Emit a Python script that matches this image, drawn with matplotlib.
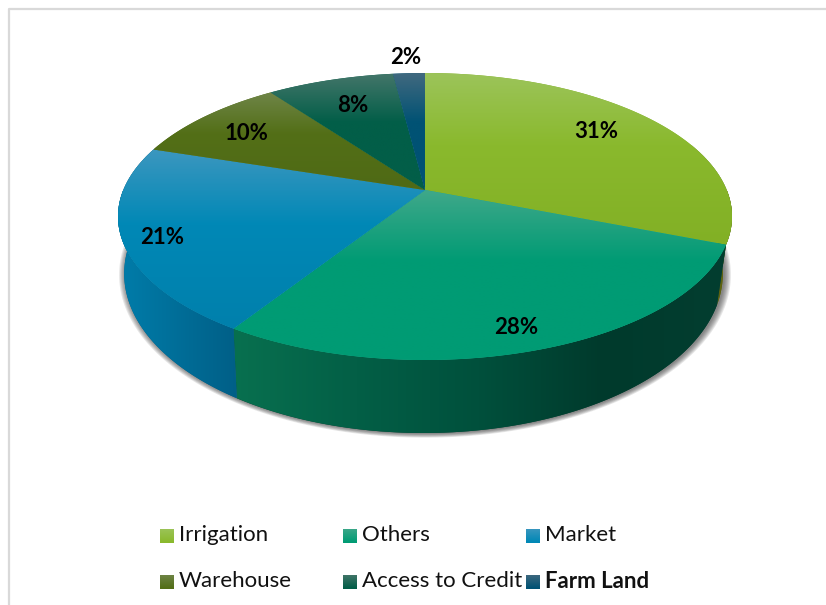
"""Tilted 3D style pie chart with gradient faces, drawn on a pixel-sized axes."""

import numpy as np
import matplotlib
matplotlib.use("Agg")
import matplotlib.pyplot as plt
from matplotlib.colors import LinearSegmentedColormap
from matplotlib.patches import Polygon

plt.rcParams["font.family"] = ["Lato", "DejaVu Sans"]

CATEGORIES = ["Irrigation", "Others", "Market", "Warehouse", "Access to Credit", "Farm Land"]
SHARES = [31, 28, 21, 10, 8, 2]
LABEL_TEXTS = ["31%", "28%", "21%", "10%", "8%", "2%"]

# styles
BASE_COLORS = ["#8AB92D", "#009B74", "#0088B6", "#536F17", "#025E48", "#005274"]
LIGHT_COLORS = ["#9CC45A", "#3FA88A", "#3C97BF", "#6F8548", "#44766A", "#41697F"]
END_COLORS = ["#82B025", "#009B74", "#0080AC", "#4F6A15", "#025E48", "#005274"]
SIDE_STOPS = {
    0: ["#5E6410", "#5A6010"],
    1: ["#08704F", "#035F46", "#00503C", "#003A2C", "#033E30"],
    2: ["#007DAA", "#005F87"],
}
LABEL_XY = [(596, 132), (516, 328), (162, 238), (246, 134), (353, 105), (406, 57)]
LEGEND_BOX_X = [160, 343, 526]
LEGEND_ROW_Y = [529, 575]
LEGEND_BOX = 13.5

# projection of the pie disc, in pixels
APEX_X, APEX_Y = 425.0, 190.0
RX, RY, TILT = 301.7, 138.6, 0.1847
SIDE_SX, SIDE_SY, SIDE_X0, SIDE_Y0 = 0.975, 1.11, 423.5, 244.3


def project(theta_deg):
    t = np.radians(theta_deg)
    d = 1 + TILT * np.sin(t)
    return RX * np.cos(t) / d, -RY * np.sin(t) / d


def top_xy(theta_deg):
    x, y = project(theta_deg)
    return np.column_stack([APEX_X + x, APEX_Y + y])


def bottom_xy(theta_deg, grow=1.0, dx=0.0, dy=0.0):
    x, y = project(theta_deg)
    return np.column_stack([SIDE_X0 + dx + x * SIDE_SX * grow, SIDE_Y0 + dy + y * SIDE_SY * grow])


def gradient_fill(ax, pts, colors, positions=None, vertical=True, zorder=2):
    """polygon filled with a linear gradient along its bounding box"""
    patch = Polygon(pts, closed=True, facecolor=colors[-1], edgecolor="none", zorder=zorder)
    ax.add_patch(patch)
    x0, y0 = pts.min(axis=0)
    x1, y1 = pts.max(axis=0)
    if positions is None:
        positions = np.linspace(0, 1, len(colors))
    cmap = LinearSegmentedColormap.from_list("g", list(zip(positions, colors)))
    ramp = np.linspace(0, 1, 256)
    arr = ramp[:, None] if vertical else ramp[None, :]
    im = ax.imshow(arr, cmap=cmap, vmin=0, vmax=1, extent=(x0, x1, y1, y0),
                   origin="upper", aspect="auto", interpolation="bilinear", zorder=zorder)
    im.set_clip_path(patch)
    return im


fig = plt.figure(figsize=(8.26, 6.05), dpi=100)
ax = fig.add_axes([0, 0, 1, 1])
ax.axis("off")

# chart frame (top and left only are in the crop)
ax.plot([9, 9, 826], [605, 9, 9], color="#D9D9D9", linewidth=1.6, zorder=1)

edges = 90 - np.cumsum([0] + SHARES) * 3.6

# soft shadow under the disc
circle = np.linspace(-200, 20, 200)
for i in range(7):
    grow = 1.022 - i * 0.0035
    ring = np.vstack([top_xy(circle), bottom_xy(circle, grow=grow, dx=1.5, dy=0.5)[::-1]])
    ax.add_patch(Polygon(ring, closed=True, facecolor="#3A3A3A", edgecolor="none",
                         alpha=0.12, zorder=1.5))

# side walls, only the part facing the viewer
for i in SIDE_STOPS:
    start = min(edges[i], 0)
    stop = max(edges[i + 1], -180)
    th = np.linspace(start, stop, 80)
    wall = np.vstack([top_xy(th), bottom_xy(th)[::-1]])
    gradient_fill(ax, wall, SIDE_STOPS[i], vertical=False, zorder=2)

# top faces
for i in range(len(SHARES)):
    th = np.linspace(edges[i], edges[i + 1], 120)
    face = np.vstack([[[APEX_X, APEX_Y]], top_xy(th)])
    gradient_fill(ax, face, [LIGHT_COLORS[i], BASE_COLORS[i], END_COLORS[i]],
                  positions=[0, 0.42, 1], zorder=3)

for txt, (x, y) in zip(LABEL_TEXTS, LABEL_XY):
    ax.text(x, y, txt, ha="center", va="center", fontsize=16, fontweight="bold",
            color="black", zorder=5)

# legend, 3 columns by 2 rows
for i, name in enumerate(CATEGORIES):
    bx = LEGEND_BOX_X[i % 3]
    by = LEGEND_ROW_Y[i // 3]
    box = np.array([[bx, by], [bx + LEGEND_BOX, by], [bx + LEGEND_BOX, by + LEGEND_BOX], [bx, by + LEGEND_BOX]])
    gradient_fill(ax, box, [LIGHT_COLORS[i], BASE_COLORS[i]], zorder=3)
    ax.text(bx + 19, by + 6, name, ha="left", va="center", fontsize=16, color="#111111",
            fontweight="bold" if name == "Farm Land" else "normal", zorder=5)

ax.set_xlim(0, 826)
ax.set_ylim(605, 0)

fig.savefig("out.png", dpi=100)
plt.close(fig)
